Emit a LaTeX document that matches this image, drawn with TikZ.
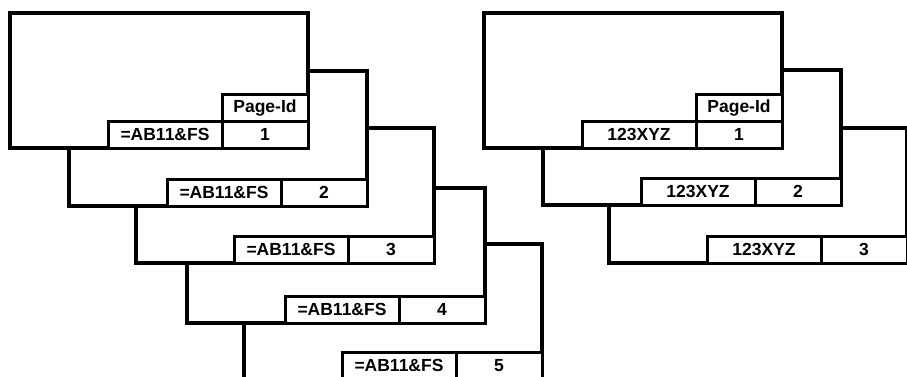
\documentclass[tikz,border=0pt]{standalone}
\usepackage{fontspec}
\setmainfont{Liberation Sans}
\usetikzlibrary{positioning}

\begin{document}
\begin{tikzpicture}[
    x=1pt, y=-1pt,
    node distance=0pt,
    sheet/.style={draw=black, fill=white, line width=3.2pt, minimum width=298pt,
      minimum height=135pt, inner sep=0pt, outer sep=0pt, anchor=north west},
    numcell/.style={draw=black, fill=white, line width=3pt, minimum width=86pt,
      minimum height=26.5pt, inner sep=0pt, outer sep=0pt,
      font=\bfseries\fontsize{17.5}{17.5}\selectfont},
    tagcell/.style={numcell, minimum width=114pt}
  ]
    \useasboundingbox (0,0) rectangle (907,377);

    % left stack, back to front
    \node[sheet] (ab5) at (244,244) {};
    \node[numcell, anchor=south east] (ab5num) at (ab5.south east) {5};
    \node[tagcell, left=of ab5num] (ab5tag) {=AB11\&FS};

    \node[sheet] (ab4) at (187,188) {};
    \node[numcell, anchor=south east] (ab4num) at (ab4.south east) {4};
    \node[tagcell, left=of ab4num] (ab4tag) {=AB11\&FS};

    \node[sheet] (ab3) at (136,128) {};
    \node[numcell, anchor=south east] (ab3num) at (ab3.south east) {3};
    \node[tagcell, left=of ab3num] (ab3tag) {=AB11\&FS};

    \node[sheet] (ab2) at (69,71) {};
    \node[numcell, anchor=south east] (ab2num) at (ab2.south east) {2};
    \node[tagcell, left=of ab2num] (ab2tag) {=AB11\&FS};

    \node[sheet] (ab1) at (10,13) {};
    \node[numcell, anchor=south east] (ab1num) at (ab1.south east) {1};
    \node[tagcell, left=of ab1num] (ab1tag) {=AB11\&FS};
    \node[numcell, above=of ab1num] (ab1id) {Page-Id};

    % right stack
    \node[sheet] (xyz3) at (609,128) {};
    \node[numcell, anchor=south east] (xyz3num) at (xyz3.south east) {3};
    \node[tagcell, left=of xyz3num] (xyz3tag) {123XYZ};

    \node[sheet] (xyz2) at (543,70) {};
    \node[numcell, anchor=south east] (xyz2num) at (xyz2.south east) {2};
    \node[tagcell, left=of xyz2num] (xyz2tag) {123XYZ};

    \node[sheet] (xyz1) at (484,13) {};
    \node[numcell, anchor=south east] (xyz1num) at (xyz1.south east) {1};
    \node[tagcell, left=of xyz1num] (xyz1tag) {123XYZ};
    \node[numcell, above=of xyz1num] (xyz1id) {Page-Id};
  \end{tikzpicture}
\end{document}
